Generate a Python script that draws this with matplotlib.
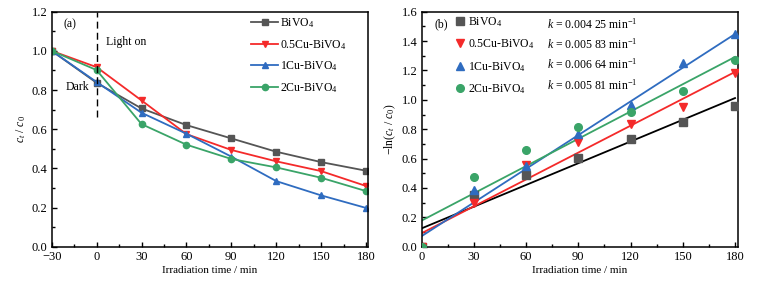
import numpy as np
import matplotlib
matplotlib.use("Agg")
import matplotlib.pyplot as plt
from matplotlib.ticker import MultipleLocator

plt.rcParams['font.family'] = ['Liberation Serif', 'DejaVu Serif']
plt.rcParams['mathtext.fontset'] = 'custom'
plt.rcParams['mathtext.rm'] = 'Liberation Serif'
plt.rcParams['mathtext.it'] = 'Liberation Serif:italic'

# ---- data ----
t_a = [-30, 0, 30, 60, 90, 120, 150, 180]
names = ['BiVO$_4$', '0.5Cu-BiVO$_4$', '1Cu-BiVO$_4$', '2Cu-BiVO$_4$']
c_bivo4 = [1.0, 0.837, 0.706, 0.621, 0.553, 0.485, 0.432, 0.388]
c_05cu = [1.0, 0.917, 0.747, 0.575, 0.494, 0.436, 0.386, 0.31]
c_1cu = [1.0, 0.841, 0.684, 0.577, 0.46, 0.335, 0.262, 0.198]
c_2cu = [1.0, 0.902, 0.626, 0.521, 0.448, 0.405, 0.352, 0.284]

t_b = [0, 30, 60, 90, 120, 150, 180]
ln_bivo4 = [0.0, 0.355, 0.485, 0.603, 0.735, 0.85, 0.96]
ln_05cu = [0.0, 0.295, 0.555, 0.71, 0.835, 0.953, 1.185]
ln_1cu = [0.0, 0.385, 0.55, 0.765, 0.965, 1.25, 1.45]
ln_2cu = [0.0, 0.472, 0.658, 0.815, 0.915, 1.058, 1.272]
fit_start = [0.125, 0.092, 0.072, 0.178]
fit_end = [1.012, 1.19, 1.448, 1.292]
k_labels = ['0.004 25', '0.005 83', '0.006 64', '0.005 81']

colors = ['#555555', '#f42a2a', '#2f6cc0', '#3aa468']
fit_colors = ['#000000', '#f42a2a', '#2f6cc0', '#3aa468']
markers = ['s', 'v', '^', 'o']

fig = plt.figure(figsize=(7.58, 2.84), dpi=100)
axa = fig.add_axes([0.0682, 0.1313, 0.4173, 0.8275])
axb = fig.add_axes([0.5563, 0.1313, 0.4173, 0.8275])

for ys, c, m, n in zip([c_bivo4, c_05cu, c_1cu, c_2cu], colors, markers, names):
    axa.plot(t_a, ys, color=c, marker=m, markersize=4.5, lw=1.3, label=n)
axa.plot([0, 0], [0.66, 1.2], ls=(0, (5, 3)), color='black', lw=1.0)
axa.set_xlim(-30, 181.3)
axa.set_ylim(0, 1.2)
axa.set_xticks([-30, 0, 30, 60, 90, 120, 150, 180])
axa.xaxis.set_minor_locator(MultipleLocator(15))
axa.yaxis.set_major_locator(MultipleLocator(0.2))
axa.yaxis.set_minor_locator(MultipleLocator(0.1))
axa.set_yticklabels([f'{v:.1f}' for v in axa.get_yticks()])
axa.text(-22, 1.135, '(a)', fontsize=8.5, va='center', ha='left')
axa.text(6, 1.045, 'Light on', fontsize=8.5, va='center', ha='left')
axa.text(-20.5, 0.817, 'Dark', fontsize=8.5, va='center', ha='left')
axa.legend(loc='upper left', bbox_to_anchor=(0.63, 0.982), frameon=False, fontsize=8.5,
           handlelength=2.3, handletextpad=0.2, labelspacing=0.68, borderpad=0, borderaxespad=0)
axa.set_xlabel('Irradiation time / min', fontsize=8, labelpad=2)
axa.set_ylabel('$c_t$ / $c_0$', fontsize=8.5, labelpad=3)

for ys, c, m, n, fc, y0, y1 in zip([ln_bivo4, ln_05cu, ln_1cu, ln_2cu], colors, markers, names, fit_colors, fit_start, fit_end):
    axb.plot(t_b, ys, ls='none', marker=m, color=c, markersize=5.5, label=n, zorder=3)
    axb.plot([0, 180], [y0, y1], color=fc, lw=1.3, zorder=2)
axb.set_xlim(0, 181.7)
axb.set_ylim(0, 1.6)
axb.set_xticks([0, 30, 60, 90, 120, 150, 180])
axb.xaxis.set_minor_locator(MultipleLocator(15))
axb.yaxis.set_major_locator(MultipleLocator(0.2))
axb.yaxis.set_minor_locator(MultipleLocator(0.1))
axb.set_yticklabels([f'{v:.1f}' for v in axb.get_yticks()])
axb.text(0.042, 0.948, '(b)', transform=axb.transAxes, fontsize=8.5, va='center', ha='left')
axb.legend(loc='upper left', bbox_to_anchor=(0.1, 0.985), frameon=False, fontsize=8.5,
           handlelength=1.2, handletextpad=0.05, labelspacing=0.72, borderpad=0, borderaxespad=0)
row_y = [0.945, 0.86, 0.775, 0.688]
for yy, kl in zip(row_y, k_labels):
    axb.text(0.396, yy, f'$k$ = {kl} min$^{{-1}}$', transform=axb.transAxes, fontsize=8.5, va='center', ha='left')
axb.set_xlabel('Irradiation time / min', fontsize=8, labelpad=2)
axb.set_ylabel('$-$ln($c_t$ / $c_0$)', fontsize=8.5, labelpad=3)

for ax in (axa, axb):
    ax.tick_params(which='both', direction='in', top=False, right=False, labelsize=9, width=1.0)
    ax.tick_params(which='major', length=3.5, pad=3)
    ax.tick_params(which='minor', length=2)
    for sp in ax.spines.values():
        sp.set_linewidth(1.1)

fig.savefig('out.png', dpi=100)
